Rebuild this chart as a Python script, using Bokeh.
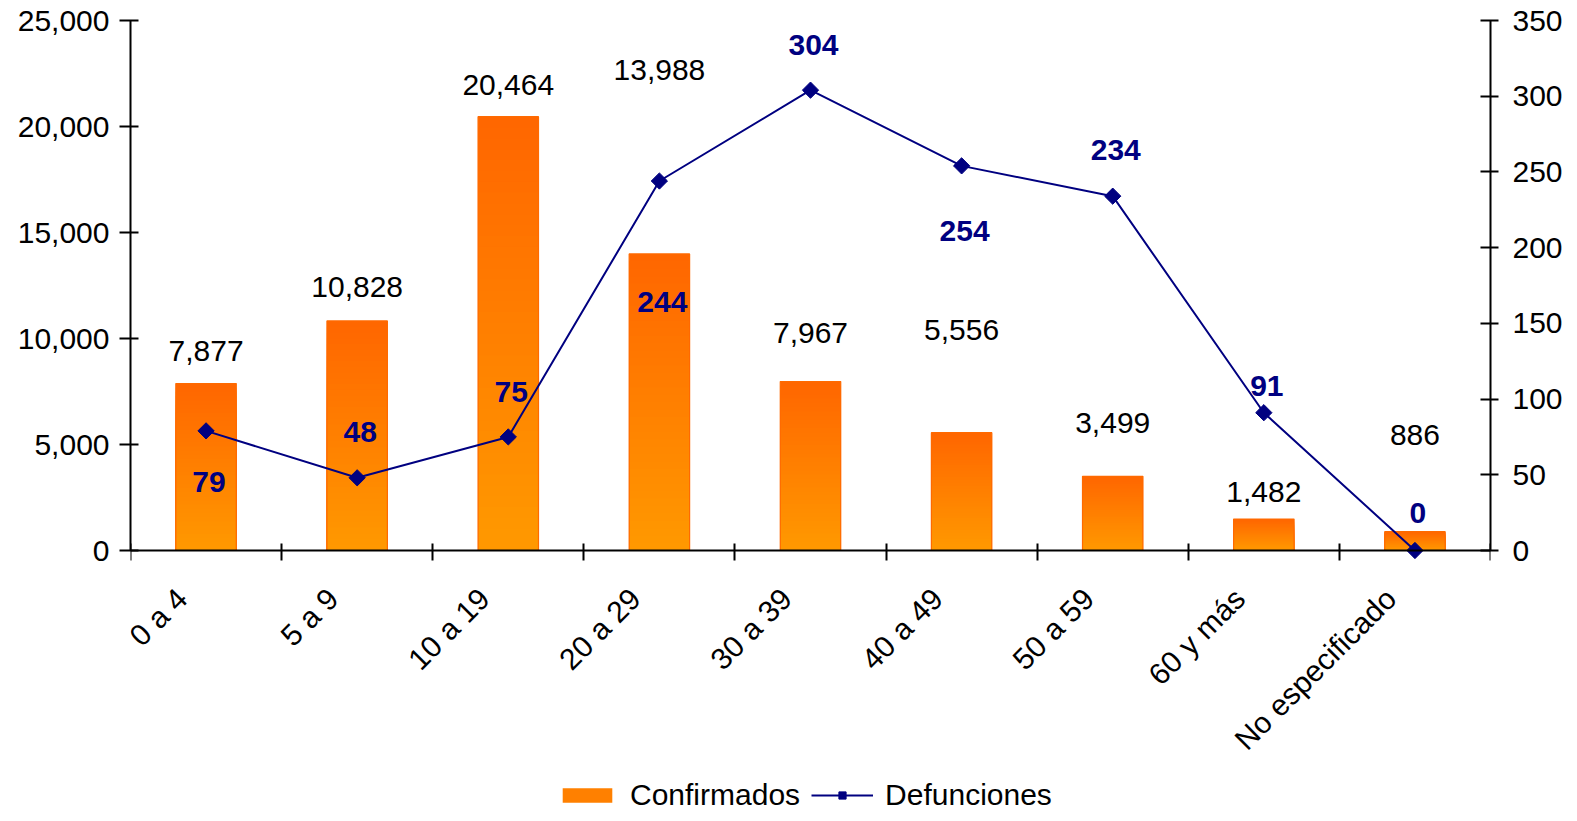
import math
import numpy as np
from bokeh.plotting import figure
from bokeh.models import (Range1d, LinearAxis, FixedTicker, NumeralTickFormatter,
                          CustomJSTickFormatter, Legend, LegendItem, ColumnDataSource)
from bokeh.core.properties import value
from bokeh.embed import file_html
from bokeh.resources import INLINE

# ---------------- data ----------------
categorias = ["0 a 4", "5 a 9", "10 a 19", "20 a 29", "30 a 39", "40 a 49",
              "50 a 59", "60 y más", "No especificado"]
confirmados = [7877, 10828, 20464, 13988, 7967, 5556, 3499, 1482, 886]
defunciones = [79, 48, 75, 244, 304, 254, 234, 91, 0]
ticks_izq = [0, 5000, 10000, 15000, 20000, 25000]
ticks_der = [0, 50, 100, 150, 200, 250, 300, 350]

# label placement (screen px, positive = up from the data point)
conf_label_up = [33, 34, 32, 184, 49, 103, 53, 27, 97]
def_label_up = [-51, 46, 45, -121, 45, -65, 46, 27, 38]

FONT = "Liberation Sans"
NAVY = "#000080"

n = len(categorias)
xs = np.arange(n) + 0.5

# the frame extends below zero to leave room for the rotated labels and the legend
p = figure(frame_width=1360, frame_height=795, x_range=Range1d(0, n),
           y_range=Range1d(-12500, 25000),
           output_backend="svg", toolbar_location=None,
           min_border_left=130, min_border_right=82, min_border_top=20,
           min_border_bottom=0)
p.extra_y_ranges = {"def": Range1d(-175, 350)}
p.xgrid.visible = False
p.ygrid.visible = False
p.outline_line_color = None
p.background_fill_color = "white"
p.border_fill_color = "white"

# ---------------- gradient bars ----------------
N = 40
top_c = np.array([0xFF, 0x66, 0x00], dtype=float)
bot_c = np.array([0xFF, 0x99, 0x00], dtype=float)
gx, gtop, gcol = [], [], []
for k in range(N):
    frac = (N - k) / N
    f = (N - k - 0.5) / N
    c = bot_c + (top_c - bot_c) * f
    col = "#%02x%02x%02x" % tuple(int(round(v)) for v in c)
    for i in range(n):
        gx.append(xs[i])
        gtop.append(confirmados[i] * frac)
        gcol.append(col)
src = ColumnDataSource(dict(x=gx, top=gtop, color=gcol))
bars_r = p.vbar(x="x", top="top", bottom=0, width=0.4, source=src, fill_color="color",
                line_color=None)
p.vbar(x=xs, top=confirmados, bottom=0, width=0.4, fill_color=None, line_color="#FF6A00",
       line_width=1.2)

# ---------------- line ----------------
line_r = p.line(xs, defunciones, y_range_name="def", line_color=NAVY, line_width=2)
pts_r = p.scatter(xs, defunciones, y_range_name="def", marker="square", size=11.5,
                  angle=math.pi / 4, fill_color=NAVY, line_color=NAVY)

# ---------------- labels ----------------
p.text(x=xs, y=confirmados, text=[f"{v:,}" for v in confirmados],
       y_offset=[-u for u in conf_label_up], text_align="center", text_baseline="middle",
       text_font=value(FONT), text_font_size="30px", text_color="black")
p.text(x=xs, y=defunciones, text=[str(v) for v in defunciones], y_range_name="def",
       y_offset=[-u for u in def_label_up], x_offset=3, text_align="center",
       text_baseline="middle", text_font=value(FONT), text_font_size="30px",
       text_font_style="bold", text_color=NAVY)

# ---------------- axes ----------------
def style_axis(ax):
    ax.axis_line_color = "black"
    ax.axis_line_width = 2
    ax.major_tick_line_color = "black"
    ax.major_tick_line_width = 2
    ax.major_label_text_font = FONT
    ax.major_label_text_font_size = "30px"
    ax.major_label_text_color = "black"

ya = p.yaxis[0]
style_axis(ya)
ya.ticker = FixedTicker(ticks=ticks_izq)
ya.formatter = NumeralTickFormatter(format="0,0")
ya.bounds = (ticks_izq[0], ticks_izq[-1])
ya.major_tick_in = 8
ya.major_tick_out = 11
ya.minor_tick_line_color = None
ya.major_label_standoff = 10

ra = LinearAxis(y_range_name="def", ticker=FixedTicker(ticks=ticks_der),
                bounds=(ticks_der[0], ticks_der[-1]))
style_axis(ra)
ra.major_tick_in = 10
ra.major_tick_out = 8
ra.minor_tick_line_color = None
ra.major_label_standoff = 14
p.add_layout(ra, "right")

xa = p.xaxis[0]
style_axis(xa)
xa.fixed_location = 0
label_shift = 0.16  # labels sit slightly left of the category centre
xa.ticker = FixedTicker(ticks=[x - label_shift for x in xs], minor_ticks=list(range(n + 1)))
xa.formatter = CustomJSTickFormatter(args=dict(cats=categorias),
                                     code="return cats[Math.floor(tick)];")
xa.major_tick_line_color = None
xa.major_tick_in = 0
xa.major_tick_out = 10
xa.minor_tick_line_color = "black"
xa.minor_tick_line_width = 2
xa.minor_tick_in = 7
xa.minor_tick_out = 10
xa.major_label_orientation = math.pi / 4
xa.major_label_standoff = 33

# ---------------- legend ----------------
legend = Legend(items=[LegendItem(label="Confirmados", renderers=[bars_r], index=(N // 2) * n),
                       LegendItem(label="Defunciones", renderers=[line_r, pts_r])],
                orientation="horizontal", location=(426, 3),
                label_text_font=FONT, label_text_font_size="30px",
                label_text_color="black", glyph_width=62, glyph_height=18,
                label_standoff=12, spacing=11, padding=0, margin=0,
                border_line_color=None, background_fill_alpha=0)
p.add_layout(legend, "center")

open("out.html", "w").write(file_html(p, INLINE))
